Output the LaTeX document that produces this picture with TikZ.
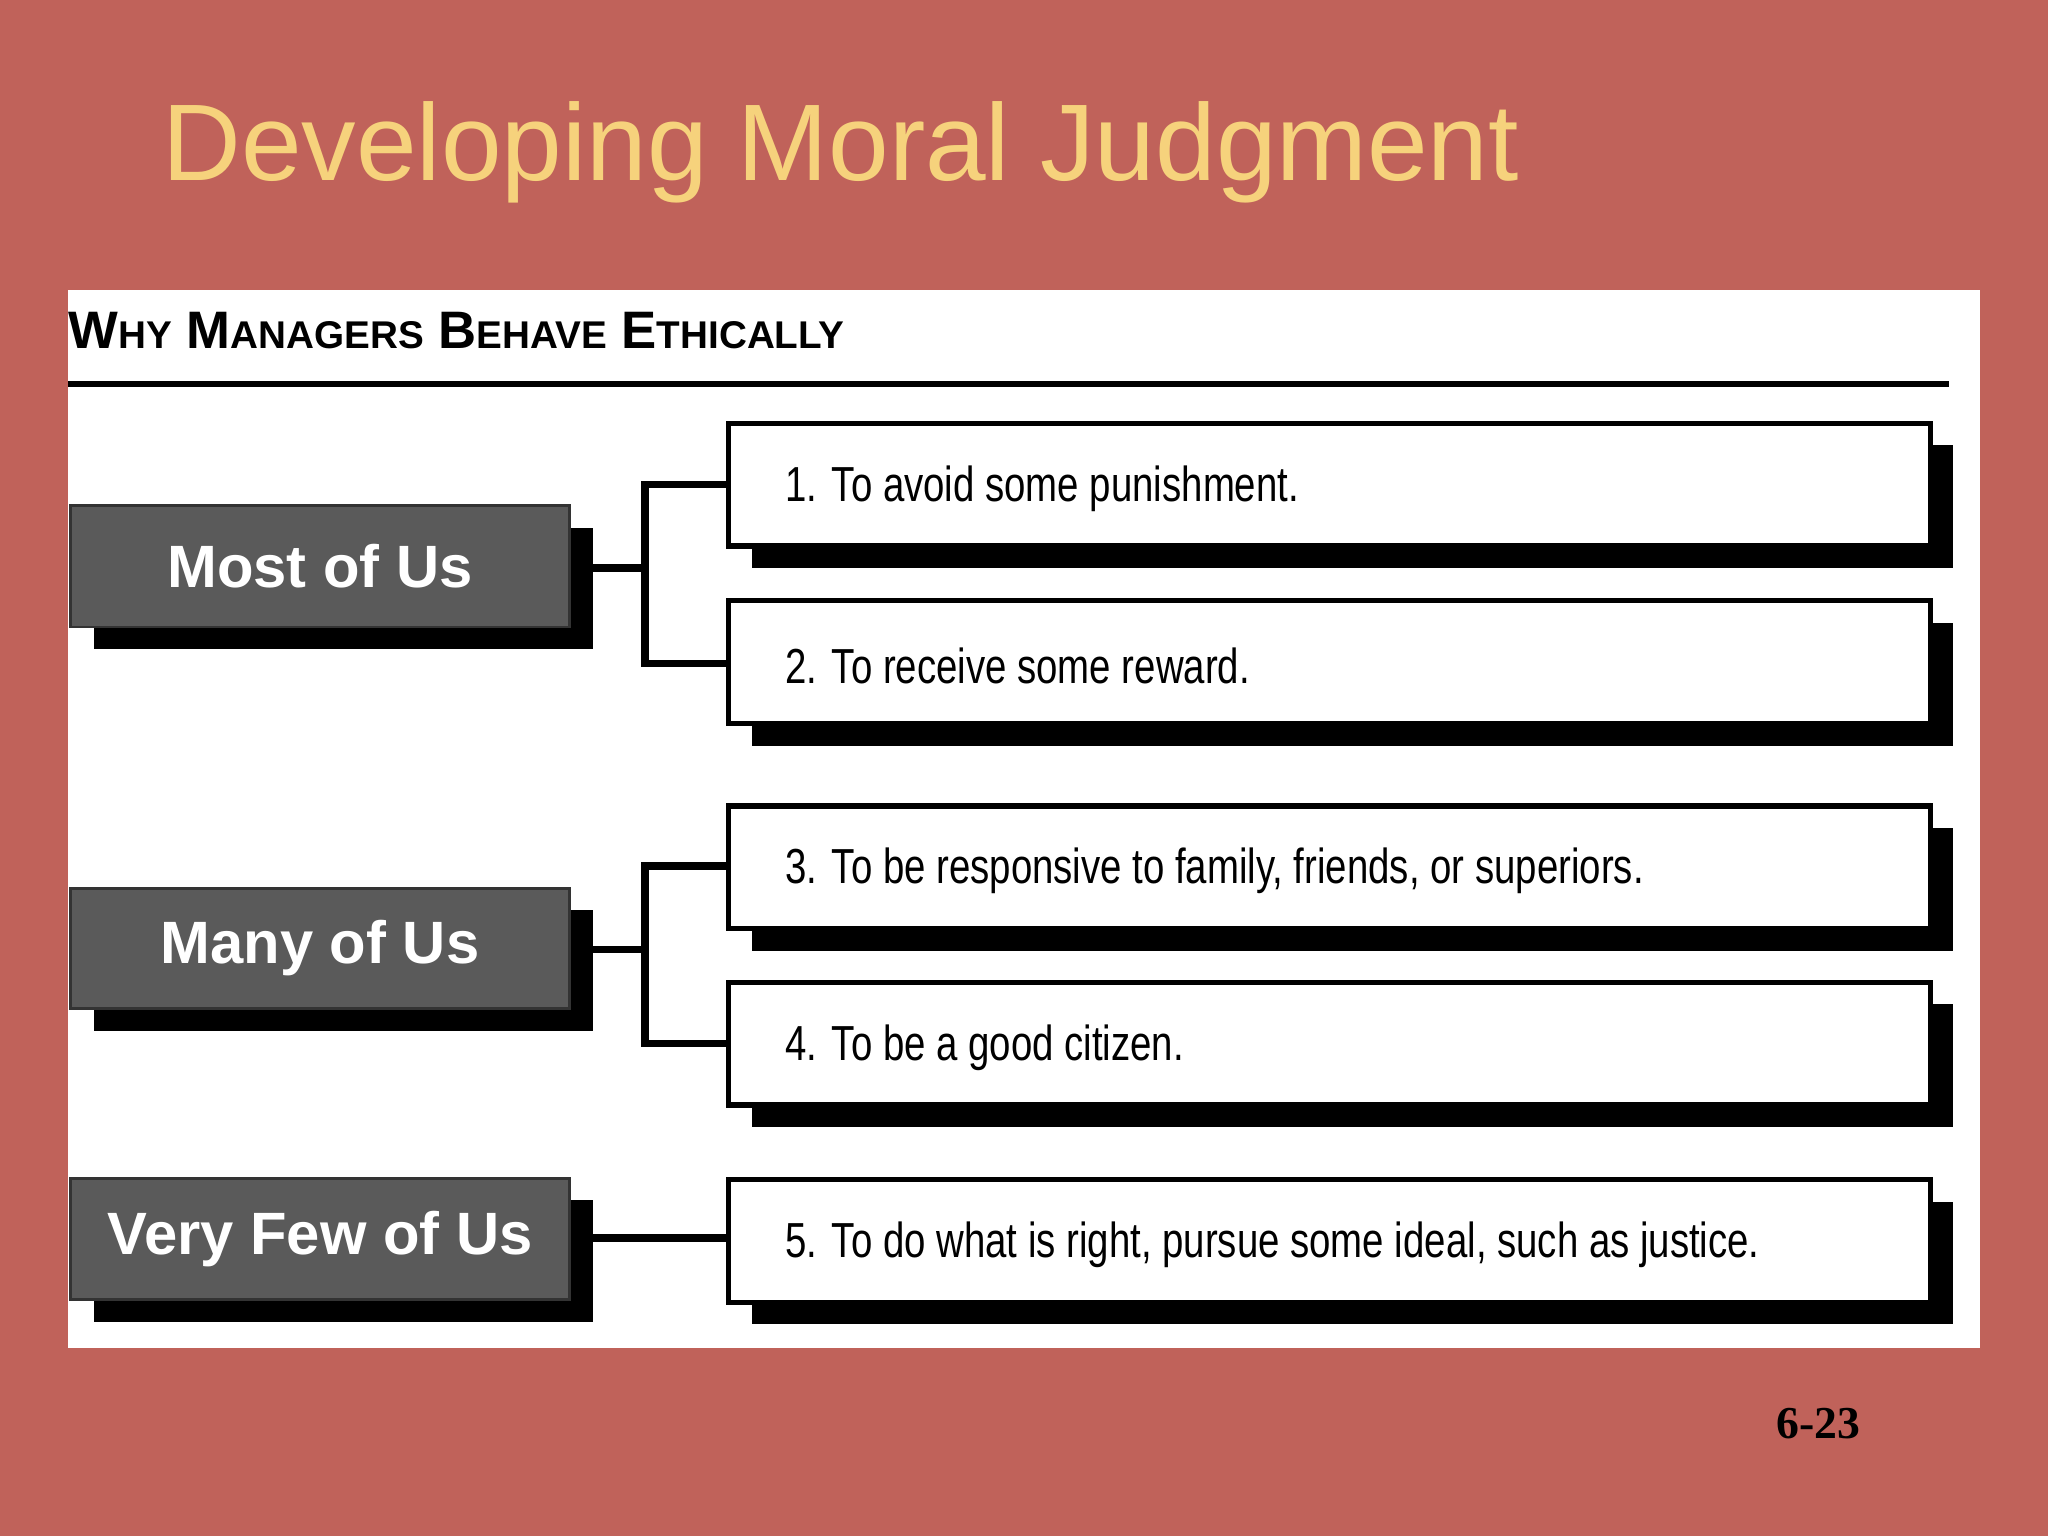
\documentclass[tikz,border=0pt]{standalone}
\usepackage{fontspec}
\setmainfont{Liberation Sans}
\newfontfamily\narrowfont[FakeStretch=0.78]{Liberation Sans}
\newfontfamily\pagefont{Liberation Serif}
\definecolor{bgred}{HTML}{C0625A}
\definecolor{titley}{HTML}{F6D27C}
\definecolor{boxgray}{HTML}{5A5A5A}
\tikzset{
 lbox/.style={fill=boxgray,draw=black!80,line width=0.8pt},
 lshadow/.style={fill=black},
 rbox/.style={fill=white,draw=black,line width=1.5pt},
 conn/.style={draw=black,line width=2.2pt},
 ltext/.style={text=white,font=\fontsize{17}{20}\selectfont\bfseries},
 rtext/.style={anchor=west,font=\narrowfont\fontsize{14}{16}\selectfont},
}
\begin{document}
\begin{tikzpicture}[x=0.013061cm,y=-0.013061cm]
\fill[bgred] (0,0) rectangle (1568,1176);
\useasboundingbox (0,0) rectangle (1568,1176);
\node[anchor=west,text=titley,font=\fontsize{31}{36}\selectfont] (title) at (115,117) {Developing Moral Judgment};
\fill[white] (52,222) rectangle (1516,1032);
\node[anchor=west,font=\bfseries\fontsize{15}{18}\selectfont,inner sep=0] (head) at (52,253) {W{\fontsize{11}{13}\selectfont HY} M{\fontsize{11}{13}\selectfont ANAGERS} B{\fontsize{11}{13}\selectfont EHAVE} E{\fontsize{11}{13}\selectfont THICALLY}};
\draw[line width=1.5pt] (52,294) -- (1492,294);
% left boxes
\foreach \t/\b/\n/\s in {387/480/a/Most of Us,680/772/b/Many of Us,902/995/c/Very Few of Us}{
  \fill[lshadow] (72,\t+17) rectangle (454,\b+17);
  \draw[lbox] (54,\t) rectangle (436,\b);
  \node[ltext] (\n) at (245,{(\t+\b)/2}) {\s};
}
% right boxes
\foreach \t/\n/\s in {324/r1/1. To avoid some punishment.,460/r2/2. To receive some reward.,617/r3/{3. To be responsive to family, friends, or superiors.},752/r4/4. To be a good citizen.,903/r5/{5. To do what is right, pursue some ideal, such as justice.}}{
  \fill[black] (576,\t+17) rectangle (1495,\t+111);
  \draw[rbox] (558,\t) rectangle (1478,\t+94);
  \node[rtext] (\n) at (592,\t+50) {\s};
}
\coordinate (ja) at (454,435);
\coordinate (jb) at (454,727);
\coordinate (jc) at (454,948);
\draw[conn] (ja) -- (494,435);
\draw[conn] (558,371) -- (494,371) -- (494,508) -- (558,508);
\draw[conn] (jb) -- (494,727);
\draw[conn] (558,663) -- (494,663) -- (494,799) -- (558,799);
\draw[conn] (jc) -- (558,948);
\node[font=\pagefont\bfseries\fontsize{13}{15}\selectfont] (pg) at (1392,1090) {6-23};
\end{tikzpicture}
\end{document}
